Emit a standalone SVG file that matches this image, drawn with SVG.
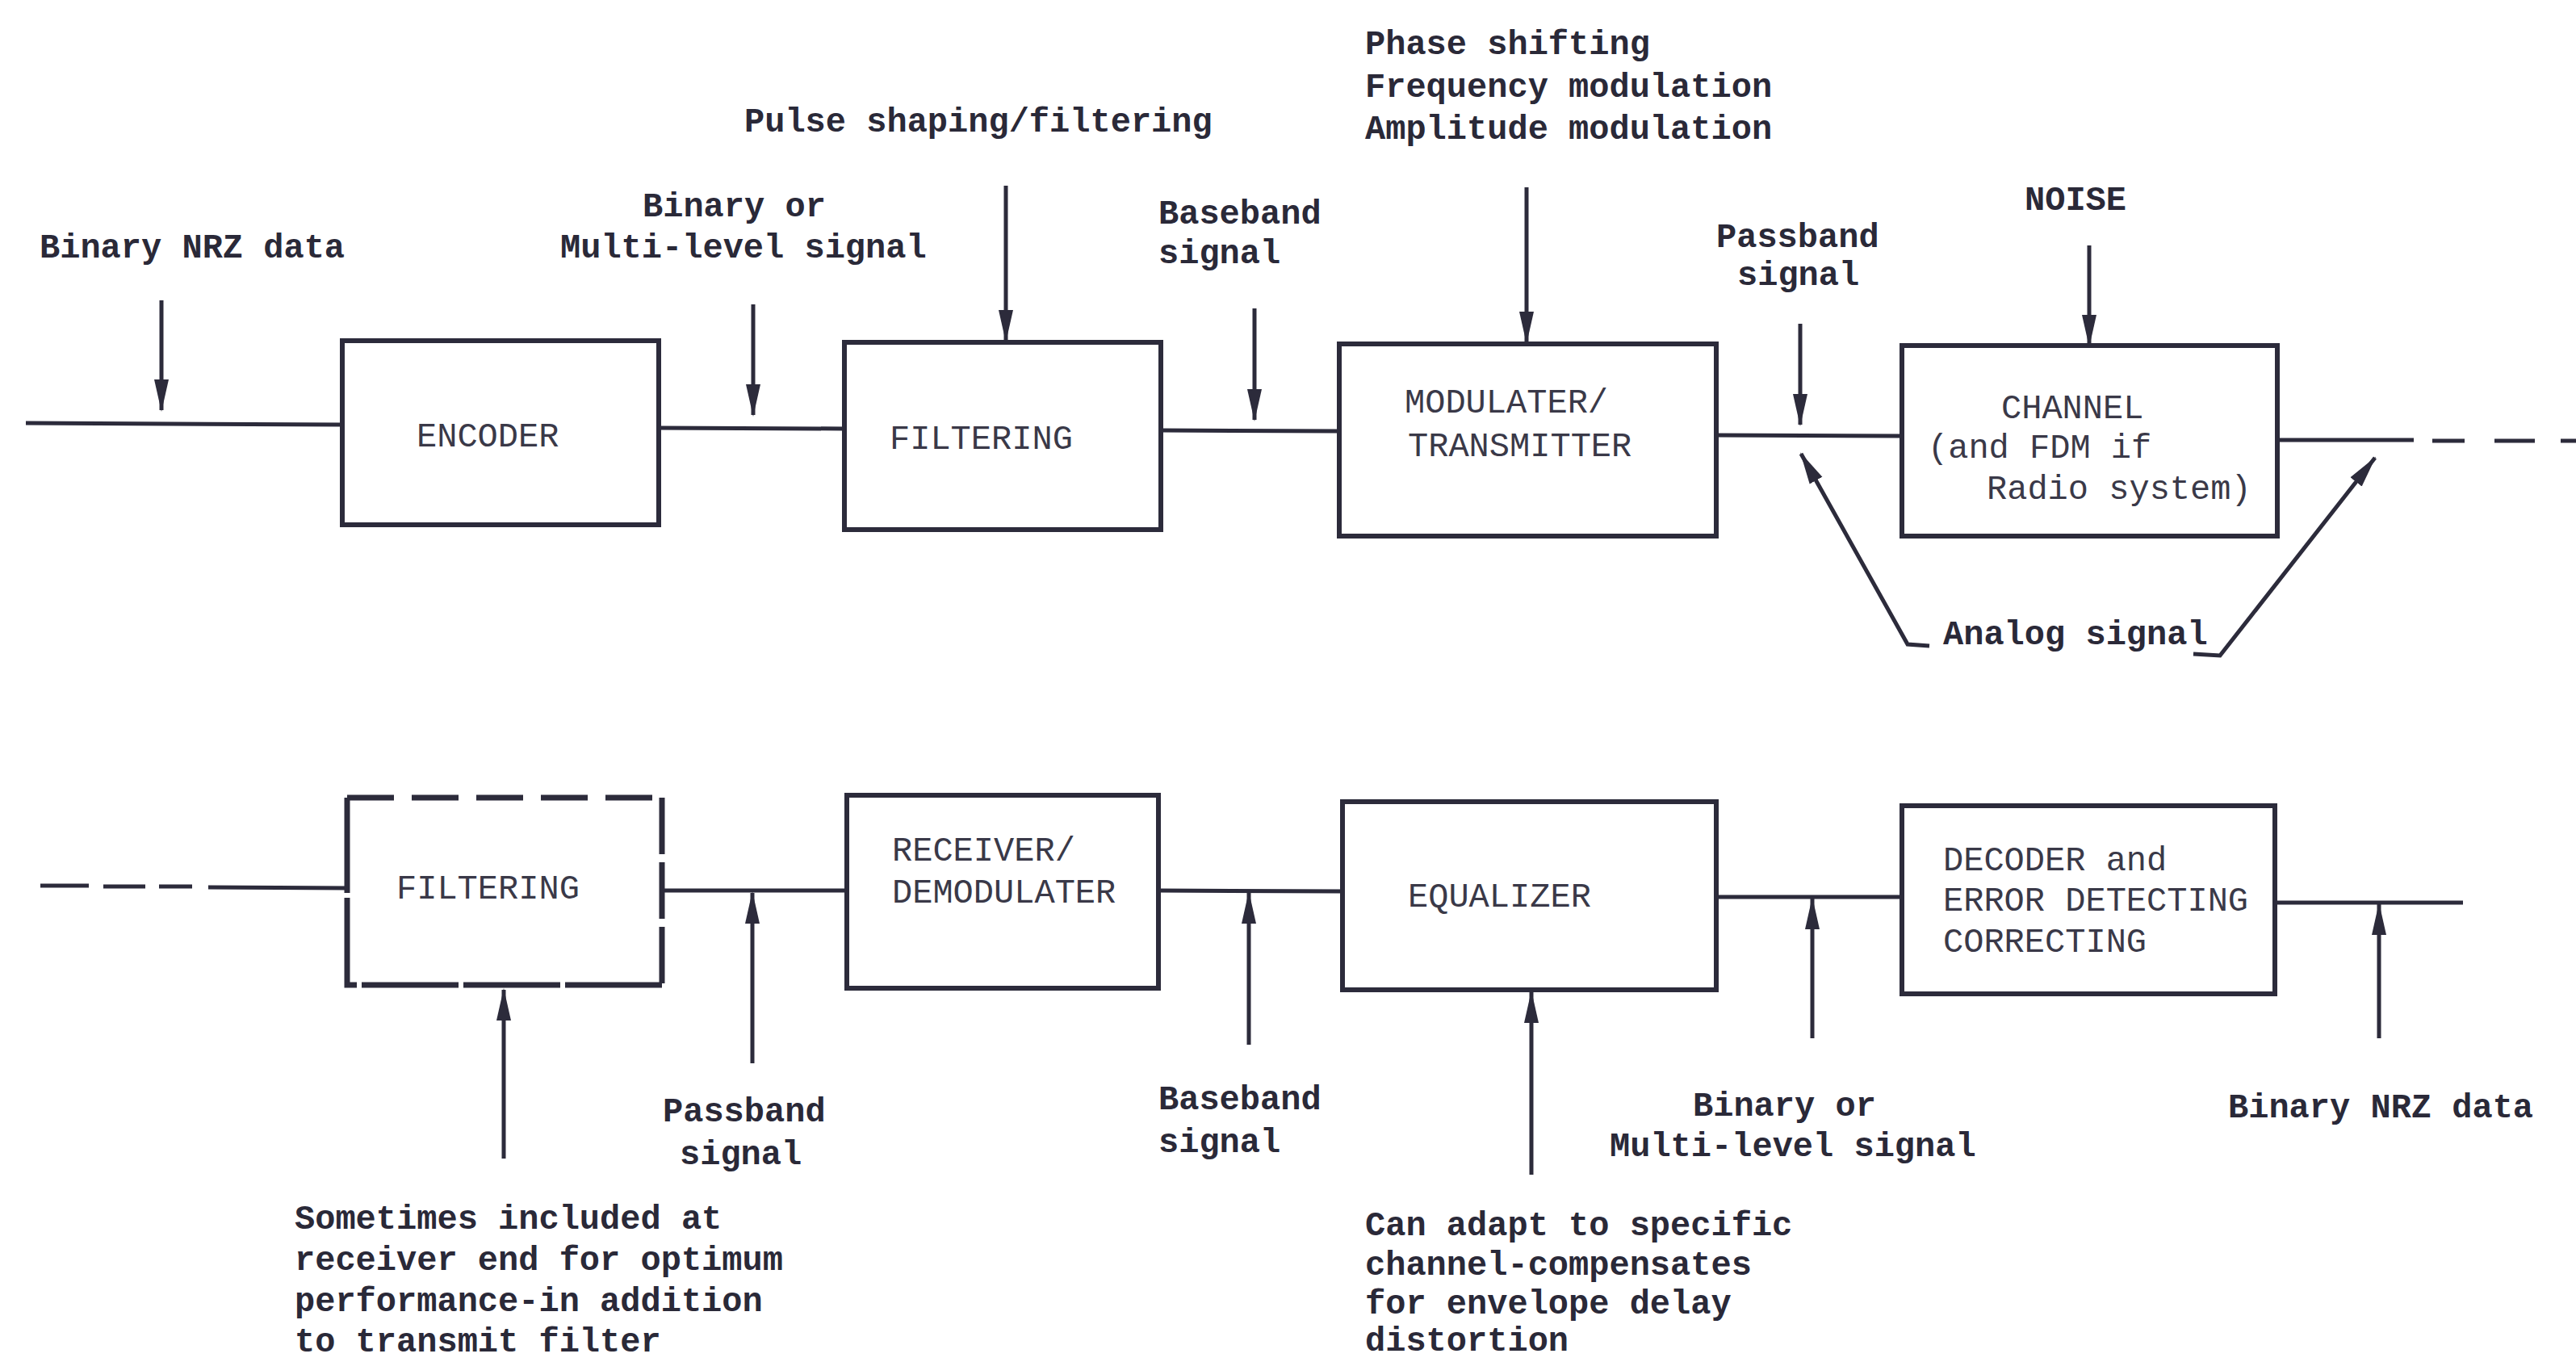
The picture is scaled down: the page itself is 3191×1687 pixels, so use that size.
<svg xmlns="http://www.w3.org/2000/svg" width="3191" height="1687" viewBox="0 0 3191 1687">
<style>
.bg{fill:#ffffff}
.box{fill:none;stroke:#2c2b3b;stroke-width:6;stroke-linejoin:miter}
.dbox{fill:none;stroke:#2c2b3b;stroke-width:7}
.ln{fill:none;stroke:#2c2b3b;stroke-width:5}
.ar{fill:none;stroke:#2c2b3b;stroke-width:5;marker-end:url(#ah)}
.lbl{font-family:"Liberation Mono","DejaVu Sans Mono",monospace;font-size:42px;font-weight:bold;fill:#2a2938}
.btx{font-family:"Liberation Mono","DejaVu Sans Mono",monospace;font-size:42px;fill:#3a3948}
</style>
<defs>
<marker id="ah" viewBox="0 0 40 22" refX="38" refY="11" markerWidth="40" markerHeight="22" markerUnits="userSpaceOnUse" orient="auto">
<path d="M0,2 L40,11 L0,20 Z" fill="#2c2b3b"/>
</marker>
</defs>
<rect class="bg" x="0" y="0" width="3191" height="1687"/>

<g id="connectors">
<path class="ln" d="M32,524 L424,526"/>
<path class="ln" d="M816,530 L1046,531"/>
<path class="ln" d="M1438,533 L1659,534"/>
<path class="ln" d="M2126,539 L2356,540"/>
<path class="ln" d="M2821,545 L2990,545"/>
<path class="ln" d="M3013,546 L3053,546 M3090,546 L3140,546 M3172,546 L3191,546"/>
<path class="ar" d="M200,372 L200,508"/>
<path class="ar" d="M933,377 L933,514"/>
<path class="ar" d="M1246,230 L1246,422"/>
<path class="ar" d="M1554,382 L1554,520"/>
<path class="ar" d="M1891,232 L1891,424"/>
<path class="ar" d="M2230,401 L2230,526"/>
<path class="ar" d="M2588,304 L2588,428"/>
<path class="ar" d="M2390,800 L2363,798 L2231,562"/>
<path class="ar" d="M2717,810 L2750,812 L2942,567"/>
<path class="ln" d="M50,1097 L110,1097 M128,1098 L180,1098 M197,1098 L238,1098"/>
<path class="ln" d="M258,1099 L430,1100"/>
<path class="ln" d="M820,1103 L1049,1103"/>
<path class="ln" d="M1435,1103 L1663,1104"/>
<path class="ln" d="M2126,1111 L2356,1111"/>
<path class="ln" d="M2818,1118 L3051,1118"/>
<path class="ar" d="M624,1435 L624,1226"/>
<path class="ar" d="M932,1317 L932,1106"/>
<path class="ar" d="M1547,1294 L1547,1106"/>
<path class="ar" d="M1897,1455 L1897,1229"/>
<path class="ar" d="M2245,1286 L2245,1113"/>
<path class="ar" d="M2947,1286 L2947,1120"/>
</g>

<g id="encoder">
<rect class="box" x="424" y="422" width="392" height="228"/>
<text class="btx" x="516" y="553">ENCODER</text>
</g>
<g id="filtering-tx">
<rect class="box" x="1046" y="424" width="392" height="232"/>
<text class="btx" x="1102" y="556">FILTERING</text>
</g>
<g id="modulater">
<rect class="box" x="1659" y="426" width="467" height="238"/>
<text class="btx" x="1740" y="511">MODULATER/</text>
<text class="btx" x="1744" y="565">TRANSMITTER</text>
</g>
<g id="channel">
<rect class="box" x="2356" y="428" width="465" height="236"/>
<text class="btx" x="2479" y="518">CHANNEL</text>
<text class="btx" x="2388" y="567">(and FDM if</text>
<text class="btx" x="2461" y="618">Radio system)</text>
</g>

<g id="filtering-rx">
<path class="dbox" d="M430,988 L820,988" stroke-dasharray="58 22"/>
<path class="dbox" d="M820,988 L820,1220" stroke-dasharray="70 10"/>
<path class="dbox" d="M820,1220 L430,1220 L430,988" stroke-dasharray="120 6"/>
<text class="btx" x="491" y="1113">FILTERING</text>
</g>
<g id="receiver">
<rect class="box" x="1049" y="985" width="386" height="239"/>
<text class="btx" x="1105" y="1066">RECEIVER/</text>
<text class="btx" x="1105" y="1118">DEMODULATER</text>
</g>
<g id="equalizer">
<rect class="box" x="1663" y="993" width="463" height="233"/>
<text class="btx" x="1744" y="1123">EQUALIZER</text>
</g>
<g id="decoder">
<rect class="box" x="2356" y="998" width="462" height="233"/>
<text class="btx" x="2407" y="1078">DECODER and</text>
<text class="btx" x="2407" y="1128">ERROR DETECTING</text>
<text class="btx" x="2407" y="1179">CORRECTING</text>
</g>

<g id="labels">
<text class="lbl" x="49" y="319">Binary NRZ data</text>
<text class="lbl" x="796" y="268">Binary or</text>
<text class="lbl" x="694" y="319">Multi-level signal</text>
<text class="lbl" x="922" y="163">Pulse shaping/filtering</text>
<text class="lbl" x="1435" y="277">Baseband</text>
<text class="lbl" x="1435" y="326">signal</text>
<text class="lbl" x="1691" y="67">Phase shifting</text>
<text class="lbl" x="1691" y="120">Frequency modulation</text>
<text class="lbl" x="1691" y="172">Amplitude modulation</text>
<text class="lbl" x="2126" y="306">Passband</text>
<text class="lbl" x="2152" y="353">signal</text>
<text class="lbl" x="2508" y="260">NOISE</text>
<text class="lbl" x="2407" y="798">Analog signal</text>

<text class="lbl" x="821" y="1389">Passband</text>
<text class="lbl" x="842" y="1442">signal</text>
<text class="lbl" x="1435" y="1374">Baseband</text>
<text class="lbl" x="1435" y="1427">signal</text>
<text class="lbl" x="2097" y="1382">Binary or</text>
<text class="lbl" x="1994" y="1432">Multi-level signal</text>
<text class="lbl" x="2760" y="1384">Binary NRZ data</text>
<text class="lbl" x="365" y="1522">Sometimes included at</text>
<text class="lbl" x="365" y="1573">receiver end for optimum</text>
<text class="lbl" x="365" y="1624">performance-in addition</text>
<text class="lbl" x="365" y="1674">to transmit filter</text>
<text class="lbl" x="1691" y="1530">Can adapt to specific</text>
<text class="lbl" x="1691" y="1579">channel-compensates</text>
<text class="lbl" x="1691" y="1627">for envelope delay</text>
<text class="lbl" x="1691" y="1673">distortion</text>
</g>
</svg>
